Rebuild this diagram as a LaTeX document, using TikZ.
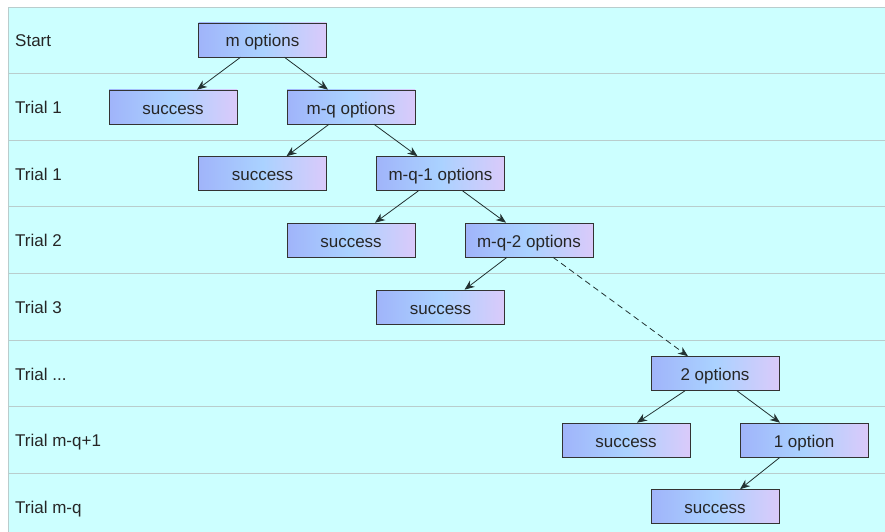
\documentclass[tikz,border=0pt]{standalone}
\usepackage{fontspec}
\setmainfont{Liberation Sans}
\usetikzlibrary{arrows.meta,calc}
\definecolor{bgc}{RGB}{204,255,255}
\definecolor{gridc}{RGB}{185,205,205}
\definecolor{boxl}{RGB}{160,180,250}
\definecolor{boxm}{RGB}{170,210,255}
\definecolor{boxr}{RGB}{218,202,250}
\definecolor{arrc}{RGB}{35,50,50}
\begin{document}
\begin{tikzpicture}[x=1pt,y=-1pt,
  optbox/.style={draw=black!80, line width=0.6pt, minimum width=128pt, minimum height=34pt,
    inner sep=0pt, text height=15pt, text depth=1pt,
    left color=boxl, right color=boxr, middle color=boxm,
    font=\fontsize{17}{20}\selectfont, text=black!85},
  rowlabel/.style={anchor=west, inner sep=0pt, text height=12pt, text depth=0pt,
    font=\fontsize{17}{20}\selectfont, text=black!85},
  conn/.style={draw=arrc, line width=0.8pt, -{Stealth[length=10pt,width=8pt]}},
  sep/.style={draw=gridc, line width=0.7pt}]
\useasboundingbox (0,0) rectangle (885,532);
\fill[white] (0,0) rectangle (885,532);
\filldraw[fill=bgc, draw=gridc, line width=0.8pt] (8,7) rectangle (890,540);
\foreach \yy in {73,140,206,273,340,406,473} \draw[sep] (8,\yy) -- (890,\yy);
% row labels
\node[rowlabel] (l0) at (15,40.5) {Start};
\node[rowlabel] (l1) at (15,107.5) {Trial 1};
\node[rowlabel] (l2) at (15,174) {Trial 1};
\node[rowlabel] (l3) at (15,240.5) {Trial 2};
\node[rowlabel] (l4) at (15,307.5) {Trial 3};
\node[rowlabel] (l5) at (15,374) {Trial ...};
\node[rowlabel] (l6) at (15,440.5) {Trial m-q+1};
\node[rowlabel] (l7) at (15,507) {Trial m-q};
% boxes
\node[optbox] (m) at (262.5,40) {m options};
\node[optbox] (s1) at (173,107) {success};
\node[optbox] (mq) at (351,107) {m-q options};
\node[optbox] (s2) at (262.5,173.5) {success};
\node[optbox] (mq1) at (440.5,173.5) {m-q-1 options};
\node[optbox] (s3) at (351,240) {success};
\node[optbox] (mq2) at (529,240) {m-q-2 options};
\node[optbox] (s4) at (440.5,307) {success};
\node[optbox] (o2) at (715,373.5) {2 options};
\node[optbox] (s5) at (626,440) {success};
\node[optbox] (o1) at (804,440) {1 option};
\node[optbox] (s6) at (715,506.5) {success};
% connectors
\draw[conn] ($(m.south)+(-22,0)$) -- ($(s1.north)+(24,0)$);
\draw[conn] ($(m.south)+(22,0)$) -- ($(mq.north)+(-23,0)$);
\draw[conn] ($(mq.south)+(-22,0)$) -- ($(s2.north)+(24,0)$);
\draw[conn] ($(mq.south)+(23,0)$) -- ($(mq1.north)+(-23,0)$);
\draw[conn] ($(mq1.south)+(-22,0)$) -- ($(s3.north)+(24,0)$);
\draw[conn] ($(mq1.south)+(22,0)$) -- ($(mq2.north)+(-23,0)$);
\draw[conn] ($(mq2.south)+(-22,0)$) -- ($(s4.north)+(24,0)$);
\draw[conn, dash pattern=on 6pt off 4pt] ($(mq2.south)+(24,0)$) -- ($(o2.north)+(-27,0)$);
\draw[conn] ($(o2.south)+(-30,0)$) -- ($(s5.north)+(11,0)$);
\draw[conn] ($(o2.south)+(22,0)$) -- ($(o1.north)+(-24,0)$);
\draw[conn] ($(o1.south)+(-24,0)$) -- ($(s6.north)+(25,0)$);
\end{tikzpicture}
\end{document}
